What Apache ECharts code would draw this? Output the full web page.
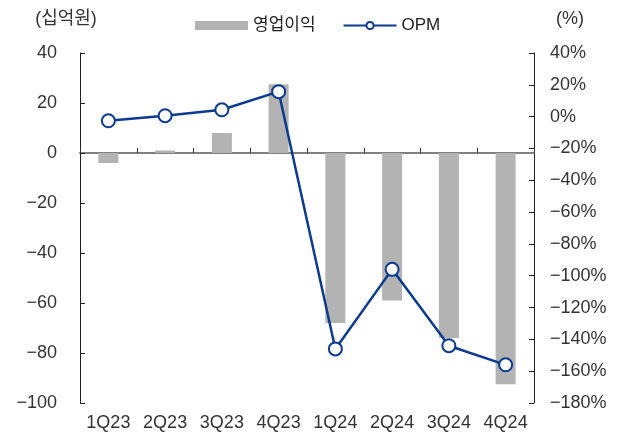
<!DOCTYPE html>
<html>
<head>
<meta charset="utf-8">
<script src="https://cdn.jsdelivr.net/npm/echarts@6/dist/echarts.min.js"></script>
<style>
	html, body { margin: 0; padding: 0; background: #fff; }
	#chart { width: 622px; height: 437px; }
</style>
</head>
<body>
<div id="chart"></div>
<script>
	var quarters = ['1Q23', '2Q23', '3Q23', '4Q23', '1Q24', '2Q24', '3Q24', '4Q24'];
	// 영업이익 (십억원)
	var profit = [-4, 1, 8, 27.5, -68, -59, -74, -92.5];
	// OPM (%)
	var opm = [-2.6, 0.6, 4.3, 15.7, -146, -96, -144, -156];

	var leftTicks = { min: -100, max: 40, interval: 20 };
	var rightTicks = { min: -180, max: 40, interval: 20 };

	var font = 'Liberation Sans, "Noto Sans CJK KR", sans-serif';
	var navy = '#0b3a8f';

	function minus(v){
		return String(v).replace('-', '\u2212');
	}

	var chart = echarts.init(document.getElementById('chart'), null, { renderer: 'canvas' });

	var option = {
		backgroundColor: '#ffffff',
		animation: false,
		textStyle: { fontFamily: font },
		legend: {
			top: 12,
			left: 190,
			itemGap: 27,
			itemWidth: 53,
			itemHeight: 9,
			textStyle: { fontSize: 17, color: '#222', fontFamily: font },
			data: [
				{ name: '영업이익', icon: 'rect' },
				{ name: 'OPM' }
			]
		},
		grid: { left: 80, right: 88, top: 53, bottom: 34 },
		xAxis: [{
			type: 'category',
			data: quarters,
			axisLine: { onZero: true, lineStyle: { color: '#808080', width: 2 } },
			axisTick: { show: true, inside: true, length: 5, lineStyle: { color: '#333' } },
			axisLabel: { show: false }
		}, {
			// labels only, kept at the bottom of the plot
			type: 'category',
			data: quarters,
			position: 'bottom',
			axisLine: { show: false },
			axisTick: { show: false },
			axisLabel: { color: '#333', fontSize: 18, margin: 11, interval: 0, fontFamily: font }
		}],
		yAxis: [{
			type: 'value',
			name: '(십억원)',
			nameLocation: 'end',
			nameGap: 25,
			nameTextStyle: { fontSize: 18, color: '#333', align: 'center', padding: [0, 0, 0, -28] },
			min: leftTicks.min,
			max: leftTicks.max,
			interval: leftTicks.interval,
			splitLine: { show: false },
			axisLine: { show: true, lineStyle: { color: '#222' } },
			axisTick: { show: true, inside: true, length: 5, lineStyle: { color: '#222' } },
			axisLabel: { color: '#333', fontSize: 18, margin: 23, formatter: minus }
		}, {
			type: 'value',
			name: '(%)',
			nameLocation: 'end',
			nameGap: 25,
			nameTextStyle: { fontSize: 18, color: '#333', align: 'center', padding: [0, 0, 0, 72] },
			min: rightTicks.min,
			max: rightTicks.max,
			interval: rightTicks.interval,
			splitLine: { show: false },
			axisLine: { show: true, lineStyle: { color: '#222' } },
			axisTick: { show: true, inside: true, length: 5, lineStyle: { color: '#222' } },
			axisLabel: {
				color: '#333', fontSize: 18, margin: 16,
				formatter: function(v){ return minus(v) + '%'; }
			}
		}],
		series: [{
			name: '영업이익',
			type: 'bar',
			xAxisIndex: 0,
			yAxisIndex: 0,
			barWidth: 20,
			itemStyle: { color: '#b3b3b3' },
			data: profit
		}, {
			name: 'OPM',
			type: 'line',
			xAxisIndex: 0,
			yAxisIndex: 1,
			symbol: 'circle',
			symbolSize: 13,
			lineStyle: { color: navy, width: 2.5 },
			itemStyle: { color: '#fff', borderColor: navy, borderWidth: 2 },
			z: 5,
			data: opm
		}]
	};

	chart.setOption(option);
</script>
</body>
</html>
